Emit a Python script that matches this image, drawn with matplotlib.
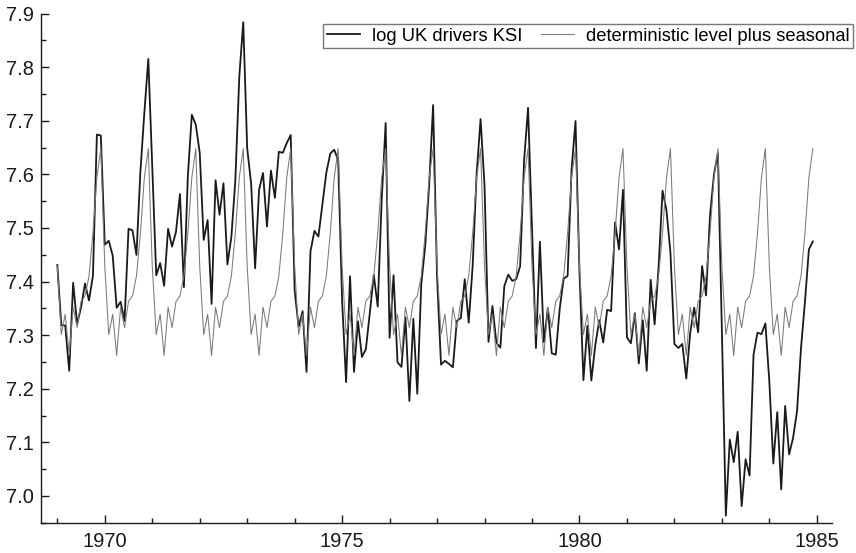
import numpy as np
import matplotlib
matplotlib.use("Agg")
import matplotlib.pyplot as plt
from matplotlib.ticker import MultipleLocator

# UK drivers killed or seriously injured, monthly 1969-1984
ksi = [
    1687, 1508, 1507, 1385, 1632, 1511, 1559, 1630, 1579, 1653, 2152, 2148,
    1752, 1765, 1717, 1558, 1575, 1520, 1805, 1800, 1719, 2008, 2242, 2478,
    2030, 1655, 1693, 1623, 1805, 1746, 1795, 1926, 1619, 1992, 2233, 2192,
    2080, 1768, 1835, 1569, 1976, 1853, 1965, 1689, 1778, 1976, 2397, 2654,
    2097, 1963, 1677, 1941, 2003, 1813, 2012, 1912, 2084, 2080, 2118, 2150,
    1608, 1503, 1548, 1382, 1731, 1798, 1779, 1887, 2004, 2077, 2092, 2051,
    1577, 1356, 1652, 1382, 1519, 1421, 1442, 1543, 1656, 1561, 1905, 2199,
    1473, 1655, 1407, 1395, 1530, 1309, 1526, 1327, 1627, 1748, 1958, 2274,
    1648, 1401, 1411, 1403, 1394, 1520, 1528, 1643, 1515, 1685, 2000, 2215,
    1956, 1462, 1563, 1459, 1446, 1622, 1657, 1638, 1643, 1683, 2050, 2262,
    1813, 1445, 1762, 1461, 1556, 1431, 1427, 1554, 1645, 1653, 2016, 2207,
    1665, 1361, 1506, 1360, 1453, 1522, 1460, 1552, 1548, 1827, 1737, 1941,
    1474, 1458, 1542, 1404, 1522, 1385, 1641, 1510, 1681, 1938, 1868, 1726,
    1456, 1445, 1456, 1365, 1487, 1558, 1488, 1684, 1594, 1850, 1998, 2079,
    1494, 1057, 1218, 1168, 1236, 1076, 1174, 1139, 1427, 1487, 1483, 1513,
    1357, 1165, 1282, 1110, 1297, 1185, 1222, 1284, 1444, 1575, 1737, 1763,
]

# deterministic level plus seasonal (value for each calendar month)
level_seasonal = [7.428, 7.301, 7.339, 7.262, 7.352, 7.314,
                  7.363, 7.373, 7.410, 7.490, 7.594, 7.648]

start_year = 1969
n_years = 16
xticks = [1970, 1975, 1980, 1985]
yticks = [7.0, 7.1, 7.2, 7.3, 7.4, 7.5, 7.6, 7.7, 7.8, 7.9]

t = start_year + np.arange(len(ksi)) / 12.0
y = np.log(np.array(ksi, dtype=float))
fit = np.tile(level_seasonal, n_years)

plt.rcParams['font.family'] = ['Liberation Sans', 'DejaVu Sans']

fig = plt.figure(figsize=(8.56, 5.53), dpi=100)
ax = fig.add_axes([41/856, 1 - 522.7/553, (832-41)/856, (522.7-13.5)/553])

l1, = ax.plot(t, y, color='#1a1a1a', lw=1.3, label='log UK drivers KSI')
l2, = ax.plot(t, fit, color='#7a7a7a', lw=0.75, label='deterministic level plus seasonal')

ax.set_xlim(1968.656, 1985.32)
ax.set_ylim(6.95, 7.9)
ax.set_xticks(xticks)
ax.set_xticklabels([str(v) for v in xticks])
ax.set_yticks(yticks)
ax.set_yticklabels([f"{v:.1f}" for v in yticks])
ax.xaxis.set_minor_locator(MultipleLocator(1))
ax.yaxis.set_minor_locator(MultipleLocator(0.05))
ax.tick_params(which='both', direction='in', width=1.0, labelsize=14.5, colors='#1a1a1a')
ax.tick_params(which='major', length=6)
ax.tick_params(which='minor', length=3.5)
ax.tick_params(axis='x', pad=6.5)
ax.tick_params(axis='y', pad=5)
for s in ['top', 'right']:
    ax.spines[s].set_visible(False)
for s in ['left', 'bottom']:
    ax.spines[s].set_linewidth(1.0)
    ax.spines[s].set_color('#1a1a1a')

leg = fig.legend(handles=[l1, l2], loc='upper right',
                 bbox_to_anchor=(853.3/856, 1 - 24/553), ncol=2,
                 fontsize=13.2, frameon=True, fancybox=False,
                 handlelength=1.8, handletextpad=0.64, columnspacing=1.05,
                 borderpad=0.2, borderaxespad=0)
leg.get_frame().set_edgecolor('#555555')
leg.get_frame().set_linewidth(1.0)

fig.savefig('out.png', dpi=100)
